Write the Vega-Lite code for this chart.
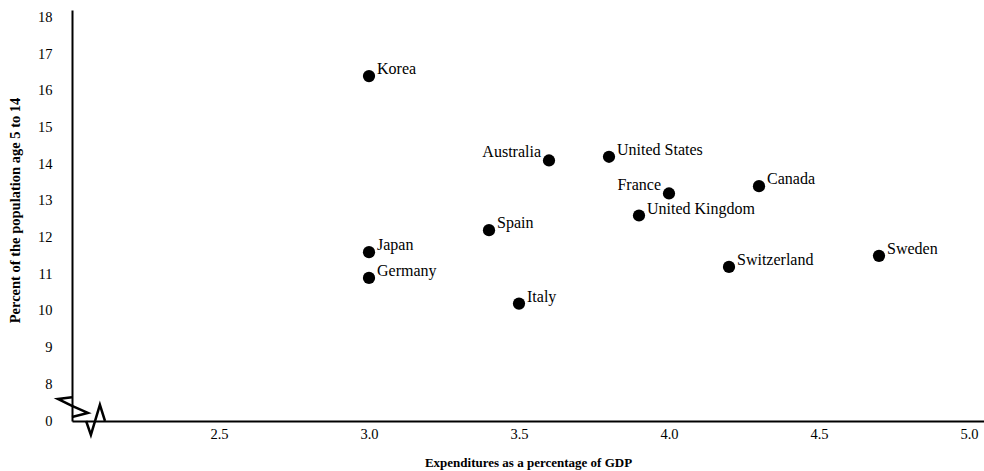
{
  "$schema": "https://vega.github.io/schema/vega-lite/v6.json",
  "autosize": {"type": "none"},
  "padding": {"left": 72, "top": 10, "right": 0, "bottom": 50},
  "width": 912,
  "height": 411,
  "background": "white",
  "config": {
    "view": {"stroke": null},
    "font": "Liberation Serif",
    "axis": {
      "grid": false,
      "ticks": false,
      "domainColor": "black",
      "domainWidth": 2,
      "labelFont": "Liberation Serif",
      "labelFontSize": 14.5,
      "labelColor": "black",
      "labelOverlap": false,
      "titleFont": "Liberation Serif",
      "titleColor": "black",
      "titleFontWeight": "bold"
    },
    "axisY": {"labelOverlap": false},
    "axisQuantitative": {"labelOverlap": false}
  },
  "datasets": {
    "countries": [
      {"country": "Korea", "gdp": 3.0, "pct": 16.4},
      {"country": "Japan", "gdp": 3.0, "pct": 11.6},
      {"country": "Germany", "gdp": 3.0, "pct": 10.9},
      {"country": "Australia", "gdp": 3.6, "pct": 14.1},
      {"country": "United States", "gdp": 3.8, "pct": 14.2},
      {"country": "Spain", "gdp": 3.4, "pct": 12.2},
      {"country": "Italy", "gdp": 3.5, "pct": 10.2},
      {"country": "France", "gdp": 4.0, "pct": 13.2},
      {"country": "United Kingdom", "gdp": 3.9, "pct": 12.6},
      {"country": "Canada", "gdp": 4.3, "pct": 13.4},
      {"country": "Switzerland", "gdp": 4.2, "pct": 11.2},
      {"country": "Sweden", "gdp": 4.7, "pct": 11.5}
    ],
    "ybreak": [
      {"i": 0, "gdp": 2.01, "pct": 7.65},
      {"i": 1, "gdp": 1.963, "pct": 7.6},
      {"i": 2, "gdp": 2.01, "pct": 7.41},
      {"i": 3, "gdp": 2.063, "pct": 7.22},
      {"i": 4, "gdp": 2.01, "pct": 7.11}
    ],
    "xbreak": [
      {"i": 0, "gdp": 2.057, "pct": 7.0},
      {"i": 1, "gdp": 2.073, "pct": 6.62},
      {"i": 2, "gdp": 2.103, "pct": 7.44},
      {"i": 3, "gdp": 2.12, "pct": 7.0}
    ]
  },
  "encoding": {
    "x": {
      "field": "gdp", "type": "quantitative",
      "scale": {"domain": [2.01, 5.05], "nice": false, "zero": false},
      "axis": {
        "title": "Expenditures as a percentage of GDP",
        "values": [2.5, 3.0, 3.5, 4.0, 4.5, 5.0],
        "format": ".1f",
        "labelOverlap": false,
        "labelPadding": 6,
        "titleFontSize": 13,
        "titleY": 41,
        "titleBaseline": "middle"
      }
    },
    "y": {
      "field": "pct", "type": "quantitative",
      "scale": {"domain": [7, 18.2], "nice": false, "zero": false},
      "axis": {
        "title": "Percent of the population age 5 to 14",
        "values": [7, 8, 9, 10, 11, 12, 13, 14, 15, 16, 17, 18],
        "labelExpr": "datum.value == 7 ? '0' : datum.label",
        "labelOverlap": false,
        "labelBound": false,
        "labelPadding": 20,
        "titleFontSize": 14.5,
        "titleX": -57,
        "titleY": 200,
        "titleBaseline": "middle"
      }
    }
  },
  "layer": [
    {
      "data": {"name": "countries"},
      "mark": {"type": "point", "filled": true, "color": "black", "opacity": 1, "size": 150}
    },
    {
      "data": {"name": "countries"},
      "transform": [{"filter": "datum.country != 'Australia' && datum.country != 'France'"}],
      "mark": {"type": "text", "align": "left", "baseline": "middle", "dx": 8, "dy": -7, "fontSize": 16, "font": "Liberation Serif", "color": "black"},
      "encoding": {"text": {"field": "country"}}
    },
    {
      "data": {"name": "countries"},
      "transform": [{"filter": "datum.country == 'Australia' || datum.country == 'France'"}],
      "mark": {"type": "text", "align": "right", "baseline": "middle", "dx": -8, "dy": -8, "fontSize": 16, "font": "Liberation Serif", "color": "black"},
      "encoding": {"text": {"field": "country"}}
    },
    {
      "data": {"name": "ybreak"},
      "mark": {"type": "line", "color": "black", "strokeWidth": 2.5, "clip": false},
      "encoding": {"order": {"field": "i"}}
    },
    {
      "data": {"name": "xbreak"},
      "mark": {"type": "line", "color": "black", "strokeWidth": 2.5, "clip": false},
      "encoding": {"order": {"field": "i"}}
    }
  ]
}
